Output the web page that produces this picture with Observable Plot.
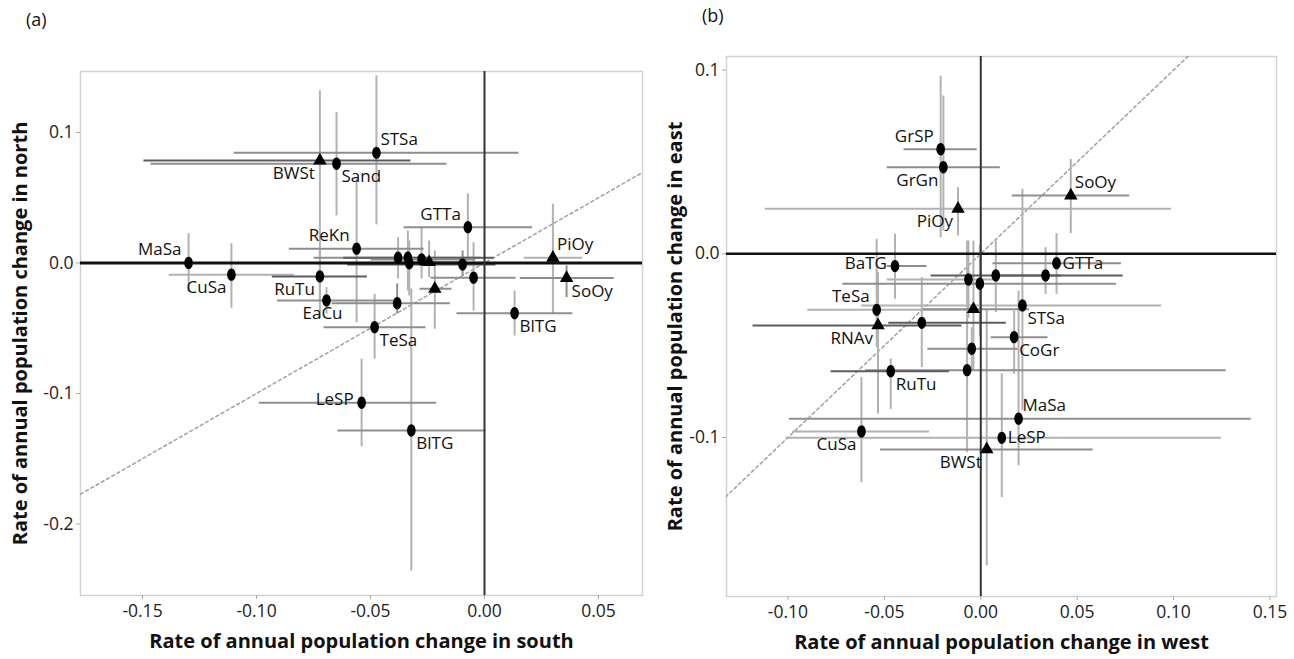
<!DOCTYPE html>
<html><head><meta charset="utf-8">
<script src="https://cdn.jsdelivr.net/npm/d3@7"></script>
<script src="https://cdn.jsdelivr.net/npm/@observablehq/plot@0.6"></script>
<style>
body{margin:0;background:#fff;font-family:"Open Sans",sans-serif;}
#wrap{position:relative;width:1294px;height:659px;overflow:hidden;}
.panel{position:absolute;top:0;}
.tag{position:absolute;font-size:18px;color:#111;font-family:"Open Sans",sans-serif;}
</style></head><body>
<div id="wrap">
<div id="pa" class="panel" style="left:0"></div>
<div id="pb" class="panel" style="left:647px"></div>
<div class="tag" style="left:26px;top:7px">(a)</div>
<div class="tag" style="left:702px;top:3px">(b)</div>
</div>
<script>
// ---------- Panel (a): south (x) vs north (y) ----------
const labelsA = ["MaSa","CuSa","RuTu","EaCu","ReKn","BWSt","Sand","STSa","GTTa","PiOy","SoOy","BlTG","TeSa","LeSP","BlTG","","","","","","","","",""];
const placeA  = ["nw","sw","sw","s","nw","sw","se","ne","nw","ne","se","se","se","w","se","","","","","","","","",""];
const shapeA  = ["c","c","c","c","c","t","c","c","c","t","t","c","c","c","c","c","c","c","c","t","c","c","t","c"];
const southA   = [-0.1298,-0.1110,-0.0722,-0.0693,-0.0561,-0.0722,-0.0649,-0.0474,-0.0073,0.0300,0.0360,0.0132,-0.0482,-0.0539,-0.0321,-0.0379,-0.0336,-0.0330,-0.0276,-0.0243,-0.0096,-0.0048,-0.0218,-0.0383];
const northA   = [0.0000,-0.0090,-0.0103,-0.0287,0.0109,0.0785,0.0760,0.0844,0.0274,0.0040,-0.0116,-0.0385,-0.0492,-0.1071,-0.1284,0.0040,0.0040,-0.0002,0.0027,0.0006,-0.0011,-0.0113,-0.0198,-0.0308];
const southLoA = [-0.160,-0.1385,-0.0933,-0.091,-0.0858,-0.1496,-0.1465,-0.110,-0.0355,0.0172,0.0155,-0.0123,-0.0706,-0.099,-0.0645,-0.075,-0.062,-0.056,-0.050,-0.040,-0.0602,-0.0237,-0.0285,-0.067];
const southHiA = [-0.100,-0.0837,-0.0516,-0.040,-0.0267,-0.0325,-0.0167,0.0149,0.0209,0.0429,0.0567,0.0385,-0.0259,-0.0212,0.0004,-0.002,0.004,-0.010,-0.004,-0.008,0.0048,0.0136,-0.0145,-0.0152];
const northLoA = [-0.0224,-0.0343,-0.0418,-0.0387,-0.0454,-0.0287,0.0364,0.0295,0.0019,-0.0389,-0.0262,-0.0556,-0.0734,-0.1404,-0.2356,-0.0119,-0.0211,-0.0249,-0.0119,-0.0109,-0.0096,-0.0364,-0.0504,-0.0387];
const northHiA = [0.0228,0.0152,0.0096,-0.0185,0.0657,0.1322,0.1156,0.1437,0.0533,0.0454,-0.0019,-0.0211,-0.0236,-0.0734,-0.0195,0.0198,0.0249,0.0172,0.0274,0.0172,0.0096,0.0159,0.0096,-0.0157];
const xTicksA = [-0.15,-0.10,-0.05,0.00,0.05];
const yTicksA = [0.1,0.0,-0.1,-0.2];
const refXA = [-0.2,0.1];
const refYA = [-0.2,0.1];
// bar tones (l = light, m = medium, d = dark)
const hToneA = ["m","l","d","m","m","d","m","m","m","l","m","m","m","m","m","m","d","m","m","m","d","m","m","m"];
const vToneA = ["l","l","l","l","l","l","l","l","l","l","m","l","l","l","l","l","l","l","l","l","m","l","l","m"];

// ---------- Panel (b): west (x) vs east (y) ----------
const labelsB = ["GrSP","GrGn","PiOy","SoOy","GTTa","","","","","STSa","BaTG","TeSa","RNAv","","","CoGr","","","RuTu","MaSa","LeSP","CuSa","BWSt"];
const placeB  = ["nw","sw","sw","ne","e","","","","","se","w","nw","sw","","","se","","","se","ne","e","sw","sw"];
const shapeB  = ["c","c","t","t","c","c","c","c","c","c","c","c","t","c","t","c","c","c","c","c","c","c","t"];
const westB   = [-0.0208,-0.0194,-0.0118,0.0467,0.0393,0.0078,0.0336,-0.0064,-0.0005,0.0216,-0.0445,-0.0540,-0.0533,-0.0306,-0.0038,0.0173,-0.0047,-0.0071,-0.0467,0.0196,0.0109,-0.0619,0.0031];
const eastB   = [0.0569,0.0471,0.0245,0.0317,-0.0051,-0.0118,-0.0118,-0.0140,-0.0163,-0.0281,-0.0067,-0.0305,-0.0390,-0.0376,-0.0302,-0.0454,-0.0517,-0.0634,-0.0639,-0.0898,-0.1002,-0.0967,-0.1065];
const westLoB = [-0.0401,-0.0488,-0.112,0.0161,0.0061,-0.026,0.0052,-0.0488,-0.0718,-0.062,-0.0488,-0.090,-0.1184,-0.048,-0.030,0.0052,-0.0277,-0.060,-0.0779,-0.0995,-0.1012,-0.0978,-0.0523];
const westHiB = [-0.0021,0.0099,0.0987,0.0770,0.0727,0.0415,0.0736,0.008,0.0701,0.0935,-0.0282,-0.0035,-0.010,0.013,0.025,0.0346,0.0191,0.127,-0.0165,0.140,0.1246,-0.0268,0.058];
const eastLoB = [0.009,0.0127,0.010,0.0112,-0.0218,-0.0318,-0.0218,-0.035,-0.045,-0.085,-0.0245,-0.0508,-0.087,-0.0617,-0.0635,-0.0653,-0.0635,-0.108,-0.0845,-0.1152,-0.1325,-0.1243,-0.1697];
const eastHiB = [0.097,0.0861,0.0363,0.0517,0.0112,0.0072,0.0036,0.0072,0.005,0.0354,0.0109,0.0082,-0.010,-0.0127,0.0072,-0.0309,-0.040,0.0072,-0.057,-0.020,-0.065,-0.0672,-0.030];
const xTicksB = [-0.10,-0.05,0.00,0.05,0.10,0.15];
const yTicksB = [0.1,0.0,-0.1];
const refXB = [-0.2,0.2];
const refYB = [-0.2,0.2];
const hToneB = ["m","m","l","m","m","d","d","l","m","l","m","l","d","d","m","m","m","m","d","m","l","l","m"];
const vToneB = ["l","l","l","l","l","l","l","l","l","l","l","l","l","l","l","l","l","l","l","l","l","l","l"];

// ---------- drawing ----------
const toneColor = {l:"#b2b2b2", m:"#8e8e8e", d:"#5c5c5c"};
const ellipse = {draw(ctx, size){
  const r = Math.sqrt(size/Math.PI), rx = r*0.78, ry = r*1.12, k = 0.5523;
  ctx.moveTo(rx,0);
  ctx.bezierCurveTo(rx,ry*k,rx*k,ry,0,ry);
  ctx.bezierCurveTo(-rx*k,ry,-rx,ry*k,-rx,0);
  ctx.bezierCurveTo(-rx,-ry*k,-rx*k,-ry,0,-ry);
  ctx.bezierCurveTo(rx*k,-ry,rx,-ry*k,rx,0);
  ctx.closePath();
}};
const placements = {
  nw:{textAnchor:"end",dx:-7,dy:-13},
  ne:{textAnchor:"start",dx:4,dy:-13},
  sw:{textAnchor:"end",dx:-5,dy:13},
  se:{textAnchor:"start",dx:5,dy:13},
  w:{textAnchor:"end",dx:-8,dy:-3},
  e:{textAnchor:"start",dx:6,dy:0},
  s:{textAnchor:"middle",dx:-4,dy:13}
};
function makePanel(p){
  const rows = p.x.map((x,i)=>({x, y:p.y[i], xlo:p.xlo[i], xhi:p.xhi[i], ylo:p.ylo[i], yhi:p.yhi[i], shape:p.shape[i], label:p.labels[i], place:p.place[i], ht:toneColor[p.ht[i]], vt:toneColor[p.vt[i]]}));
  const ref = p.refX.map((x,i)=>({x, y:p.refY[i]}));
  const labelMarks = Object.entries(placements).map(([k,o]) =>
    Plot.text(rows.filter(r=>r.label && r.place===k), {x:"x", y:"y", text:"label", ...o, fontSize:17, fill:"#111"}));
  return Plot.plot({
    width:647, height:659, marginLeft:p.ml, marginRight:p.mr, marginTop:p.mt, marginBottom:p.mb,
    style:{fontFamily:'"Open Sans", sans-serif', fontSize:"17px", color:"#222", background:"transparent", overflow:"visible"},
    x:{domain:p.xd},
    y:{domain:p.yd},
    marks:[
      Plot.frame({stroke:"#d2d2d2", strokeWidth:1.5}),
      Plot.axisX({ticks:p.xt, tickFormat:d=>d.toFixed(2), tickSize:4, tickPadding:5, stroke:"#aaa", fill:"#222", label:null, fontSize:17.5}),
      Plot.axisY({ticks:p.yt, tickFormat:d=>d.toFixed(1), tickSize:4, tickPadding:3, stroke:"#aaa", fill:"#222", label:null, fontSize:17.5}),
      Plot.line(ref, {x:"x", y:"y", stroke:"#a0a0a0", strokeWidth:1.5, strokeDasharray:"3,3", clip:true}),
      Plot.link(rows, {x1:"x", x2:"x", y1:"ylo", y2:"yhi", stroke:"vt", strokeWidth:2, clip:true}),
      Plot.link(rows, {x1:"xlo", x2:"xhi", y1:"y", y2:"y", stroke:"ht", strokeWidth:2, clip:true}),
      Plot.ruleY([0], {stroke:"#111", strokeWidth:p.hw}),
      Plot.ruleX([0], {stroke:"#333", strokeWidth:p.vw}),
      Plot.dot(rows.filter(r=>r.shape==="c"), {x:"x", y:"y", symbol:ellipse, r:5.5, fill:"#000", stroke:"none"}),
      Plot.dot(rows.filter(r=>r.shape==="t"), {x:"x", y:"y", symbol:"triangle", r:5, fill:"#000", stroke:"none"}),
      ...labelMarks,
      Plot.text([p.xTitle], {text:d=>d, frameAnchor:"bottom", textAnchor:"middle", lineAnchor:"middle", dy:46, fontWeight:"bold", fontSize:20, fill:"#111"}),
      Plot.text([p.yTitle], {text:d=>d, frameAnchor:"left", textAnchor:"middle", lineAnchor:"middle", rotate:-90, dx:p.ytdx, fontWeight:"bold", fontSize:20, fill:"#111"})
    ]
  });
}
document.getElementById("pa").append(makePanel({
  x:southA, y:northA, xlo:southLoA, xhi:southHiA, ylo:northLoA, yhi:northHiA, shape:shapeA, labels:labelsA, place:placeA,
  ht:hToneA, vt:vToneA, refX:refXA, refY:refYA, xt:xTicksA, yt:yTicksA,
  xd:[-0.1772,0.0693], yd:[-0.2548,0.1467], ml:80, mr:5, mt:71, mb:64, hw:3, vw:2,
  xTitle:"Rate of annual population change in south", yTitle:"Rate of annual population change in north", ytdx:-60
}));
document.getElementById("pb").append(makePanel({
  x:westB, y:eastB, xlo:westLoB, xhi:westHiB, ylo:eastLoB, yhi:eastHiB, shape:shapeB, labels:labelsB, place:placeB,
  ht:hToneB, vt:vToneB, refX:refXB, refY:refYB, xt:xTicksB, yt:yTicksB,
  xd:[-0.1319,0.1534], yd:[-0.1866,0.1074], ml:79, mr:18, mt:56, mb:63, hw:2.5, vw:2,
  xTitle:"Rate of annual population change in west", yTitle:"Rate of annual population change in east", ytdx:-51
}));
</script>
</body></html>
